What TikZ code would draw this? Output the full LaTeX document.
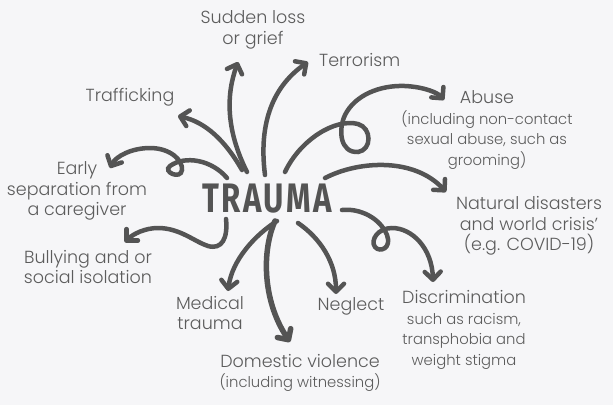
\documentclass[tikz,border=0pt]{standalone}
\usepackage{fontspec}
\setmainfont{Poppins}[UprightFont=* Light, BoldFont=* SemiBold]
\newfontfamily\hubfont{Fira Sans}[LetterSpace=8]
\usepackage{tikz}
\usetikzlibrary{arrows.meta}
\definecolor{InkGrey}{RGB}{84,84,84}
\definecolor{TextGrey}{RGB}{92,92,92}
\definecolor{PaperGrey}{RGB}{246,246,248}
\newcommand\subsize{\fontsize{14.8}{18.5}\selectfont}
\tikzset{
  lbl/.style={text=TextGrey, align=center, inner sep=0pt, font=\fontsize{17.5}{20.5}\selectfont},
  arr/.style={-{Straight Barb[length=8pt,width=16pt,round]}, line width=4.5pt, InkGrey, line cap=round},
  hub/.style={text=InkGrey, inner sep=0pt, font=\hubfont\bfseries\fontsize{40}{40}\selectfont},
}

\begin{document}
\begin{tikzpicture}[x=1pt, y=-1pt]
  \fill[PaperGrey] (0,0) rectangle (613,405);
  \useasboundingbox (0,0) rectangle (613,405);
  \node[hub] (trauma) at (267,199) {\scalebox{0.78}[1.03]{TRAUMA}};
  % labels
  \node[lbl] (sudden) at (253,30) {Sudden loss\\or grief};
  \node[lbl, anchor=west] (terror) at (319,60) {Terrorism};
  \node[lbl] (traffick) at (130,97) {Trafficking};
  \node[lbl] (early) at (77,191) {Early\\separation from\\a caregiver};
  \node[lbl] (bully) at (88,267) {Bullying and or\\social isolation};
  \node[lbl] (medical) at (210,313) {Medical\\trauma};
  \node[lbl] (domestic) at (300,373) {Domestic violence\\\subsize (including witnessing)};
  \node[lbl] (neglect) at (351,306) {Neglect};
  \node[lbl] (discrim) at (464,330) {Discrimination\\\subsize such as racism,\\\subsize transphobia and\\\subsize weight stigma};
  \node[lbl] (natural) at (529,226) {Natural disasters\\and world crisis’\\(e.g. COVID-19)};
  \node[lbl] (abuse) at (487,130) {Abuse\\\subsize (including non-contact\\\subsize sexual abuse, such as\\\subsize grooming)};
  % arrow ends
  \foreach \n/\dx/\dy in {Sudden/-20/-27, Terror/-2/-24, Traffick/-25/-29, Early/-40/-21, Bully/-41/20,
      Medical/10/22, Domestic/8/22, Neglect/31/24, Discrim/75/11, Natural/58/-21, Abuse/18/-27}
    \coordinate (o\n) at ([shift={(\dx,\dy)}]trauma.center);
  \foreach \n/\x/\y in {Sudden/238/62, Terror/308/62, Traffick/178/116, Early/110/168, Bully/125/242,
      Medical/228/291, Domestic/290/342, Neglect/336/294, Discrim/433/282, Natural/446/192, Abuse/444/100}
    \coordinate (t\n) at (\x,\y);
  % arrows
  \draw[arr] (oSudden) .. controls +(-21,-42) and +(-12,33) .. (tSudden);
  \draw[arr] (oTerror) .. controls +(-7,-55) and +(-33,23) .. (tTerror);
  \draw[arr] (oTraffick) .. controls +(-17,-30) and +(27,6) .. (tTraffick);
  \draw[arr] (oEarly) .. controls +(-15,-18) and (185,155) .. (170,166) .. controls (162,172) and (181,180) .. (182,170)
    .. controls (183,160) and (170,148) .. (150,148) .. controls +(-18,0) and +(6,-12) .. (tEarly);
  \draw[arr] (oBully) .. controls +(2,19) and (222,250) .. (208,246) .. controls (195,242) and (180,228) .. (158,228)
    .. controls +(-13,0) and +(8,-8) .. (tBully);
  \draw[arr] (oMedical) .. controls +(-22,14) and +(4,-31) .. (tMedical);
  \draw[arr, line width=5.5pt] (oDomestic) .. controls +(-13,29) and +(-28,-42) .. (tDomestic);
  \draw[arr] (oNeglect) .. controls +(22,15) and +(0,-32) .. (tNeglect);
  \draw[arr] (oDiscrim) .. controls +(18,-2) and (380,218) .. (387,235) .. controls (392,248) and (380,253) .. (375,247)
    .. controls (370,240) and (378,228) .. (392,228) .. controls (412,228) and +(-1,-34) .. (tDiscrim);
  \draw[arr] (oNatural) .. controls +(35,-18) and +(-31,-34) .. (tNatural);
  \draw[arr] (oAbuse) .. controls +(15,-32) and (335,118) .. (358,124) .. controls (372,128) and (372,150) .. (358,152)
    .. controls (340,153) and (338,130) .. (345,115) .. controls (355,95) and (380,85) .. (405,86)
    .. controls (425,87) and +(-6,-7) .. (tAbuse);
\end{tikzpicture}
\end{document}
